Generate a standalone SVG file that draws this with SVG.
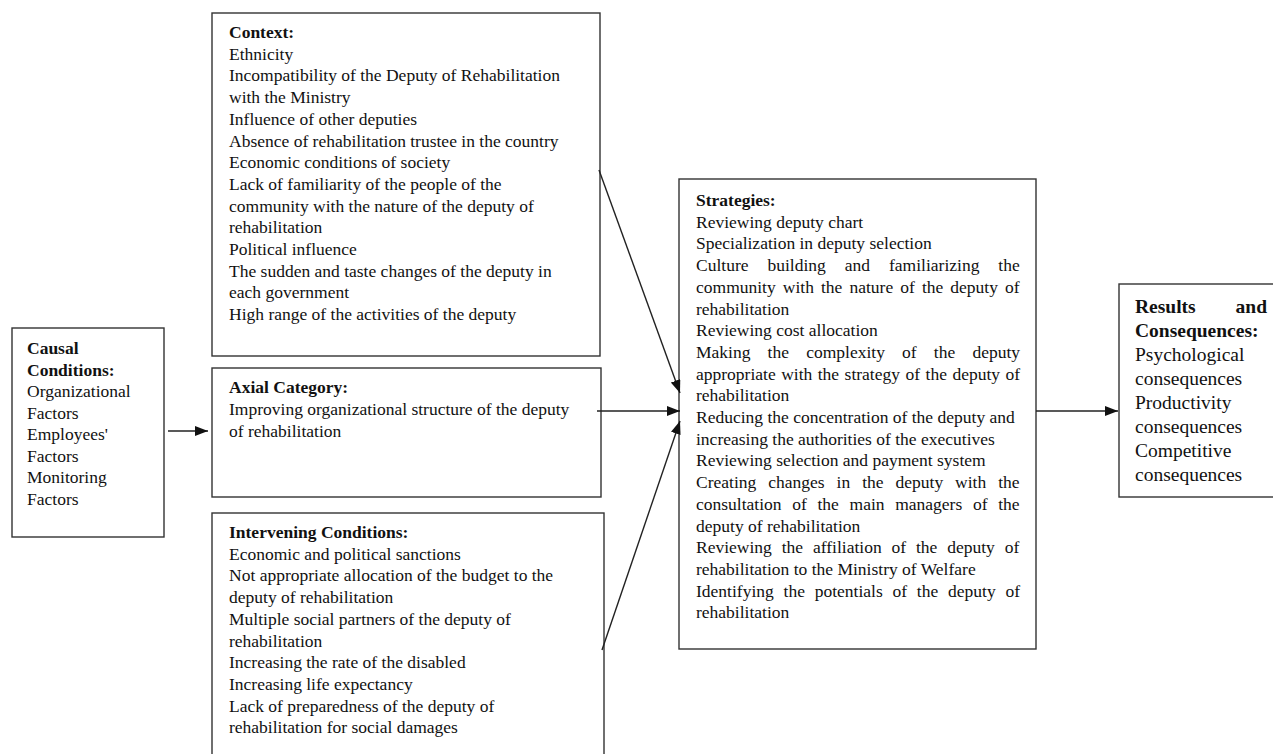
<svg xmlns="http://www.w3.org/2000/svg" width="1273" height="754" viewBox="0 0 1273 754">
<style>
.box{fill:#fff;stroke:#333;stroke-width:1.4}
.t{font-family:"Liberation Serif","Times New Roman",serif;font-size:17.5px;fill:#111}
.b{font-weight:bold}
.r{font-family:"Liberation Serif","Times New Roman",serif;font-size:19.5px;fill:#111}
.c{stroke:#222;stroke-width:1.4;fill:none}
</style>
<defs>
<marker id="ah" viewBox="0 0 13 10" refX="13" refY="5" markerWidth="13" markerHeight="10" markerUnits="userSpaceOnUse" orient="auto">
<path d="M0,0 L13,5 L0,10 z" fill="#111"/>
</marker>
</defs>
<rect width="1273" height="754" fill="#fff"/>

<g id="causal">
<rect class="box" x="12" y="328" width="152" height="209"/>
<text class="t" x="27" y="354"><tspan class="b">Causal</tspan><tspan class="b" x="27" dy="21.5">Conditions:</tspan><tspan x="27" dy="21.5">Organizational</tspan><tspan x="27" dy="21.5">Factors</tspan><tspan x="27" dy="21.5">Employees'</tspan><tspan x="27" dy="21.5">Factors</tspan><tspan x="27" dy="21.5">Monitoring</tspan><tspan x="27" dy="21.5">Factors</tspan></text>
</g>

<g id="context">
<rect class="box" x="212" y="13" width="388" height="343"/>
<text class="t" x="229" y="38"><tspan class="b">Context:</tspan><tspan x="229" dy="21.7">Ethnicity</tspan><tspan x="229" dy="21.7">Incompatibility of the Deputy of Rehabilitation</tspan><tspan x="229" dy="21.7">with the Ministry</tspan><tspan x="229" dy="21.7">Influence of other deputies</tspan><tspan x="229" dy="21.7">Absence of rehabilitation trustee in the country</tspan><tspan x="229" dy="21.7">Economic conditions of society</tspan><tspan x="229" dy="21.7">Lack of familiarity of the people of the</tspan><tspan x="229" dy="21.7">community with the nature of the deputy of</tspan><tspan x="229" dy="21.7">rehabilitation</tspan><tspan x="229" dy="21.7">Political influence</tspan><tspan x="229" dy="21.7">The sudden and taste changes of the deputy in</tspan><tspan x="229" dy="21.7">each government</tspan><tspan x="229" dy="21.7">High range of the activities of the deputy</tspan></text>
</g>

<g id="axial">
<rect class="box" x="212" y="368" width="389" height="129"/>
<text class="t" x="229" y="393"><tspan class="b">Axial Category:</tspan><tspan x="229" dy="22">Improving organizational structure of the deputy</tspan><tspan x="229" dy="22">of rehabilitation</tspan></text>
</g>

<g id="intervening">
<rect class="box" x="212" y="513" width="392" height="260"/>
<text class="t" x="229" y="538"><tspan class="b">Intervening Conditions:</tspan><tspan x="229" dy="21.7">Economic and political sanctions</tspan><tspan x="229" dy="21.7">Not appropriate allocation of the budget to the</tspan><tspan x="229" dy="21.7">deputy of rehabilitation</tspan><tspan x="229" dy="21.7">Multiple social partners of the deputy of</tspan><tspan x="229" dy="21.7">rehabilitation</tspan><tspan x="229" dy="21.7">Increasing the rate of the disabled</tspan><tspan x="229" dy="21.7">Increasing life expectancy</tspan><tspan x="229" dy="21.7">Lack of preparedness of the deputy of</tspan><tspan x="229" dy="21.7">rehabilitation for social damages</tspan></text>
</g>

<g id="strategies">
<rect class="box" x="679" y="179" width="357" height="470"/>
<text class="t b" x="696" y="206">Strategies:</text>
<text class="t" x="696" y="227.7">Reviewing deputy chart</text>
<text class="t" x="696" y="249.4">Specialization in deputy selection</text>
<text class="t" x="696" y="271.1" word-spacing="14.6">Culture building and familiarizing the</text>
<text class="t" x="696" y="292.8" word-spacing="2.7">community with the nature of the deputy of</text>
<text class="t" x="696" y="314.5">rehabilitation</text>
<text class="t" x="696" y="336.2">Reviewing cost allocation</text>
<text class="t" x="696" y="357.9" word-spacing="12.8">Making the complexity of the deputy</text>
<text class="t" x="696" y="379.6" word-spacing="1.1">appropriate with the strategy of the deputy of</text>
<text class="t" x="696" y="401.3">rehabilitation</text>
<text class="t" x="696" y="423">Reducing the concentration of the deputy and</text>
<text class="t" x="696" y="444.7">increasing the authorities of the executives</text>
<text class="t" x="696" y="466.4">Reviewing selection and payment system</text>
<text class="t" x="696" y="488.1" word-spacing="7.6">Creating changes in the deputy with the</text>
<text class="t" x="696" y="509.8" word-spacing="6.3">consultation of the main managers of the</text>
<text class="t" x="696" y="531.5">deputy of rehabilitation</text>
<text class="t" x="696" y="553.2" word-spacing="5.5">Reviewing the affiliation of the deputy of</text>
<text class="t" x="696" y="574.9">rehabilitation to the Ministry of Welfare</text>
<text class="t" x="696" y="596.6" word-spacing="5.4">Identifying the potentials of the deputy of</text>
<text class="t" x="696" y="618.3">rehabilitation</text>
</g>

<g id="results">
<rect class="box" x="1119" y="284" width="170" height="213"/>
<text class="r b" x="1135" y="313">Results</text>
<text class="r b" x="1267" y="313" text-anchor="end">and</text>
<text class="r" x="1135" y="337"><tspan class="b">Consequences:</tspan><tspan x="1135" dy="24">Psychological</tspan><tspan x="1135" dy="24">consequences</tspan><tspan x="1135" dy="24">Productivity</tspan><tspan x="1135" dy="24">consequences</tspan><tspan x="1135" dy="24">Competitive</tspan><tspan x="1135" dy="24">consequences</tspan></text>
</g>

<g id="connectors">
<line class="c" x1="168" y1="431" x2="208" y2="431" marker-end="url(#ah)"/>
<line class="c" x1="599" y1="170" x2="680" y2="393" marker-end="url(#ah)"/>
<line class="c" x1="597" y1="411" x2="680" y2="411" marker-end="url(#ah)"/>
<line class="c" x1="602" y1="650" x2="680" y2="421" marker-end="url(#ah)"/>
<line class="c" x1="1036" y1="411" x2="1118" y2="411" marker-end="url(#ah)"/>
</g>
</svg>
